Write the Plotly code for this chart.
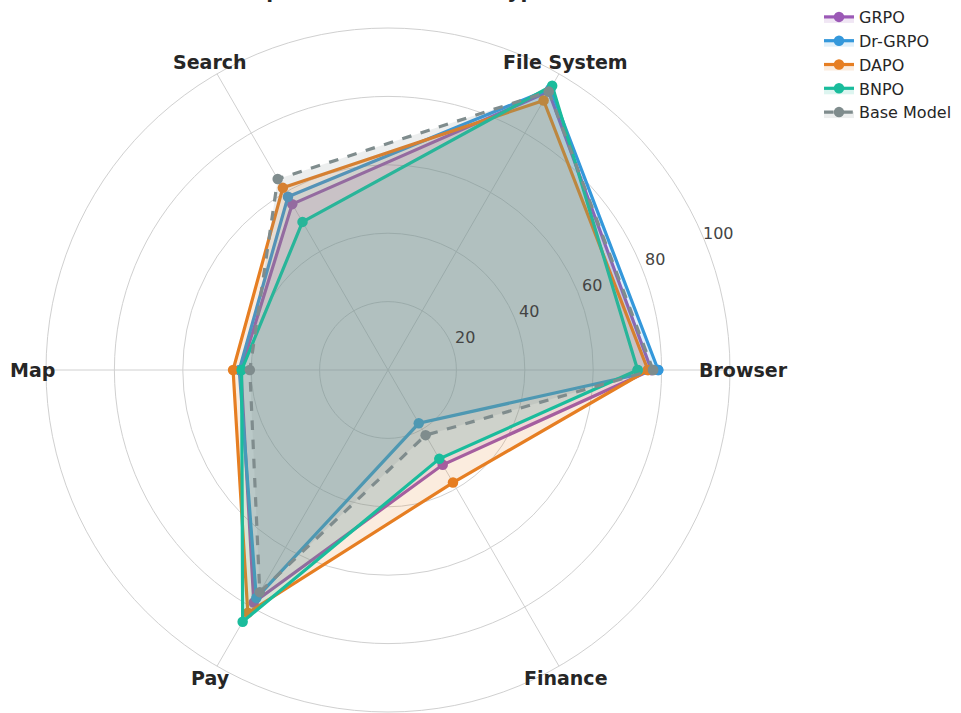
import math
import plotly.graph_objects as go

categories = ["Browser", "File System", "Search", "Map", "Pay", "Finance"]

grpo = [77, 94, 56, 43, 78.5, 32]
dr_grpo = [79, 95, 58.5, 43.5, 77, 18]
dapo = [76, 91, 61.5, 45.3, 82, 38]
bnpo = [73, 96, 50, 42.8, 85, 30]
base_model = [77.5, 94, 64.5, 40.4, 75, 22]

series_names = ["GRPO", "Dr-GRPO", "DAPO", "BNPO", "Base Model"]
series_values = [grpo, dr_grpo, dapo, bnpo, base_model]
series_colors = ["#9b59b6", "#3498db", "#e67e22", "#1abc9c", "#7f8c8d"]
series_dash = ["solid", "solid", "solid", "solid", "dash"]

radial_ticks = [20, 40, 60, 80, 100]
radial_label_angle = 22.5
title_text = "Comparison Across Task Types"


def rgba(hex_color, a):
    h = hex_color.lstrip("#")
    r, g, b = int(h[0:2], 16), int(h[2:4], 16), int(h[4:6], 16)
    return f"rgba({r},{g},{b},{a})"


fig = go.Figure()
for name, vals, col, dash in zip(series_names, series_values, series_colors, series_dash):
    fig.add_trace(go.Scatterpolar(
        r=vals + vals[:1],
        theta=categories + categories[:1],
        name=name,
        mode="lines+markers",
        line=dict(color=col, width=3.2, dash=dash),
        marker=dict(color=col, size=10.5),
        fill="toself",
        fillcolor=rgba(col, 0.15),
    ))

W, H = 961, 713
cx, cy, R = 388, 370, 342
RMAX = 100.0
dom_x = [(cx - R) / W, (cx + R) / W]
dom_y = [1 - (cy + R) / H, 1 - (cy - R) / H]


def polar_to_paper(r, deg):
    px = cx + R * r / RMAX * math.cos(math.radians(deg))
    py = cy - R * r / RMAX * math.sin(math.radians(deg))
    return px / W, 1 - py / H


annotations = []
n = len(categories)
for i, c in enumerate(categories):
    x, y = polar_to_paper(104, 360.0 * i / n)
    annotations.append(dict(
        text=f"<b>{c}</b>", x=x, y=y, xref="paper", yref="paper",
        xanchor="center", yanchor="middle", showarrow=False,
        font=dict(size=19, family="DejaVu Sans", color="#262626"),
    ))
for t in radial_ticks:
    x, y = polar_to_paper(t + 4.5, radial_label_angle)
    annotations.append(dict(
        text=str(t), x=x, y=y, xref="paper", yref="paper",
        xanchor="center", yanchor="middle", showarrow=False,
        font=dict(size=16, family="DejaVu Sans", color="#444444"),
    ))
annotations.append(dict(
    text=f"<b>{title_text}</b>",
    x=cx / W, xref="paper", y=1, yref="paper",
    xanchor="center", yanchor="middle", yshift=9,
    showarrow=False, borderpad=0,
    font=dict(size=20, color="#262626"),
))

fig.update_layout(
    width=W,
    height=H,
    margin=dict(l=0, r=0, t=0, b=0),
    paper_bgcolor="white",
    font=dict(family="DejaVu Sans", color="#262626"),
    polar=dict(
        domain=dict(x=dom_x, y=dom_y),
        bgcolor="white",
        angularaxis=dict(
            direction="counterclockwise",
            rotation=0,
            categoryorder="array",
            categoryarray=categories,
            showticklabels=False,
            gridcolor="#d0d0d0",
            gridwidth=1,
            linecolor="#d0d0d0",
            linewidth=1,
            showline=True,
            ticks="",
        ),
        radialaxis=dict(
            range=[0, RMAX],
            tickvals=radial_ticks,
            showticklabels=False,
            angle=22.5,
            showline=False,
            ticks="",
            gridcolor="#d0d0d0",
            gridwidth=1,
        ),
    ),
    legend=dict(
        x=819 / W, y=1, xanchor="left", yanchor="top",
        font=dict(size=16, color="#262626"),
        bgcolor="rgba(0,0,0,0)",
        tracegroupgap=0,
    ),
    annotations=annotations,
)

fig.write_html("out.html", config={"displayModeBar": False},
               post_script="document.body.style.margin='0';")
